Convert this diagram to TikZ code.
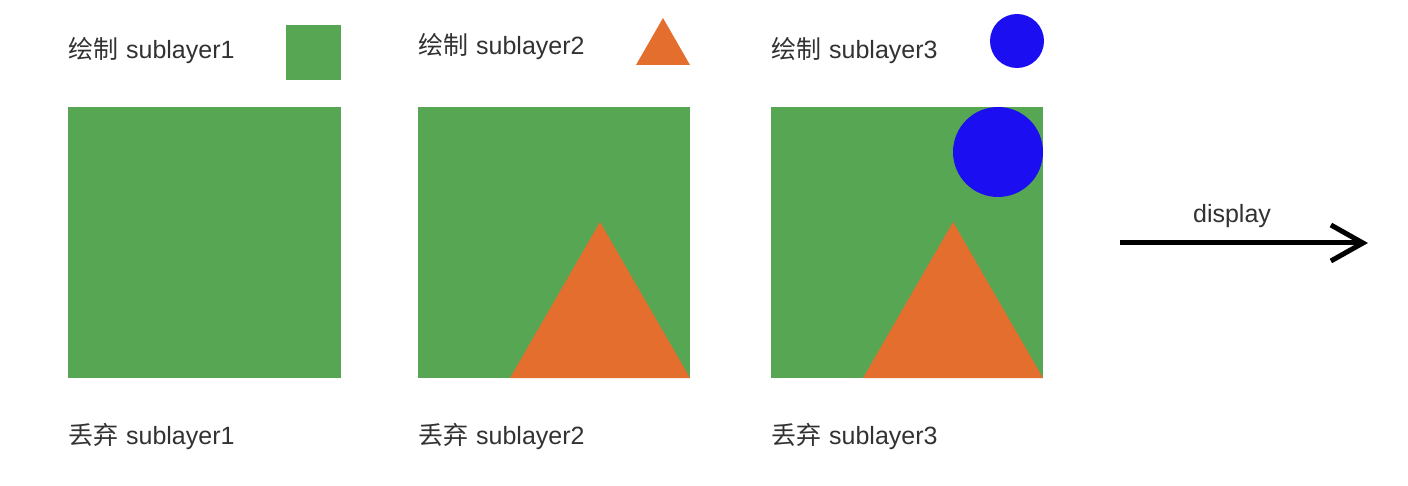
\documentclass[tikz,border=0pt]{standalone}
\usepackage{fontspec}
\setmainfont{Liberation Sans}
\newfontfamily\cjk{Noto Sans CJK SC}
\usetikzlibrary{arrows.meta}
\definecolor{lgreen}{RGB}{87,166,84}
\definecolor{lorange}{RGB}{228,110,46}
\definecolor{lblue}{RGB}{27,15,242}
\definecolor{ltext}{RGB}{50,50,50}
\begin{document}
\begin{tikzpicture}[x=1pt,y=-1pt,
  lbl/.style={anchor=west,inner sep=0pt,text=ltext,font=\fontsize{25}{28}\selectfont},
  sq/.style={fill=lgreen},
  tri/.style={fill=lorange},
  circ/.style={fill=lblue}]
\useasboundingbox[fill=white] (0,0) rectangle (1408,486);
% top labels
\node[lbl] (d1) at (68,51) {{\cjk 绘制}\hspace{1pt} sublayer1};
\node[lbl] (d2) at (418,47) {{\cjk 绘制}\hspace{1pt} sublayer2};
\node[lbl] (d3) at (771,51) {{\cjk 绘制}\hspace{1pt} sublayer3};
% bottom labels
\node[lbl] (q1) at (68,436) {{\cjk 丢弃}\hspace{1pt} sublayer1};
\node[lbl] (q2) at (418,436) {{\cjk 丢弃}\hspace{1pt} sublayer2};
\node[lbl] (q3) at (771,436) {{\cjk 丢弃}\hspace{1pt} sublayer3};
% small shapes
\fill[sq] (286,25) rectangle (341,80);
\fill[tri] (663,18) -- (690,65) -- (636,65) -- cycle;
\fill[circ] (1017,41) circle (27);
% big squares
\fill[sq] (68,107) rectangle (341,378);
\fill[sq] (418,107) rectangle (690,378);
\fill[tri] (600,222) -- (690,378) -- (510,378) -- cycle;
\fill[sq] (771,107) rectangle (1043,378);
\fill[tri] (953,222) -- (1043,378) -- (863,378) -- cycle;
\fill[circ] (998,152) circle (45);
% arrow
\coordinate (a0) at (1120,243);
\coordinate (a1) at (1368,243);
\draw[line width=5pt,-{Straight Barb[length=32pt,width=36pt,line width=5pt]}] (a0) -- (a1);
\node[lbl,anchor=center] (disp) at (1232,216) {display};
\end{tikzpicture}
\end{document}
